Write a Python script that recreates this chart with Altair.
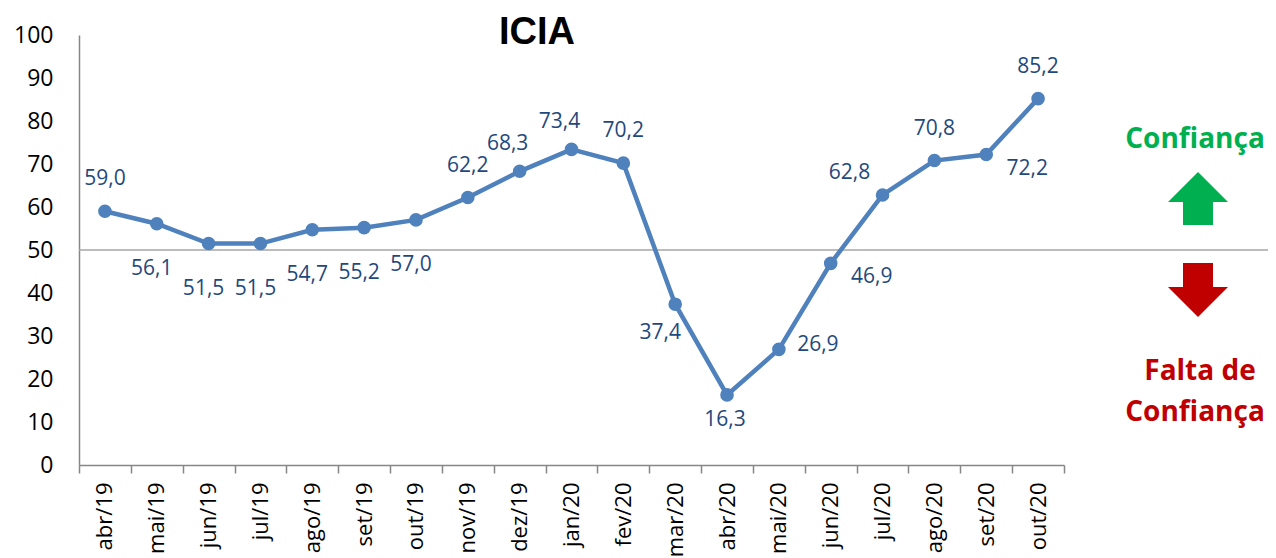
import altair as alt
import pandas as pd

# ---- data ----
months = ["abr/19", "mai/19", "jun/19", "jul/19", "ago/19", "set/19", "out/19",
          "nov/19", "dez/19", "jan/20", "fev/20", "mar/20", "abr/20", "mai/20",
          "jun/20", "jul/20", "ago/20", "set/20", "out/20"]
values = [59.0, 56.1, 51.5, 51.5, 54.7, 55.2, 57.0, 62.2, 68.3, 73.4, 70.2,
          37.4, 16.3, 26.9, 46.9, 62.8, 70.8, 72.2, 85.2]
placements = ["top", "bottom", "bottom", "bottom", "bottom", "bottom", "bottom",
              "top", "top-left", "top-left", "top", "bottom-left", "bottom-near",
              "right", "bottom-right", "upper-left", "top", "bottom-right", "top"]
y_ticks = list(range(0, 101, 10))
threshold = [50]

title_text = "ICIA"
up_text = "Confiança"
down_text = ["Falta de", "Confiança"]

# ---- style ----
LINE_COLOR = "#4F81BD"
LABEL_COLOR = "#1F497D"
GREEN = "#00B050"
RED = "#C00000"
FONT = "Open Sans"
W, H = 985, 430

OFFSETS = {
    "top": (0, -32),
    "top-left": (-12, -27),
    "bottom": (-5, 45),
    "bottom-near": (-2, 25),
    "bottom-left": (-15, 29),
    "upper-left": (-33, -22),
    "right": (39, -4),
    "bottom-right": (41, 14),
}

df = pd.DataFrame({
    "month": months,
    "value": values,
    "label": [f"{v:.1f}".replace(".", ",") for v in values],
    "place": placements,
})

x_enc = alt.X("month:N", sort=months, title=None,
              scale=alt.Scale(type="band", paddingInner=0, paddingOuter=0),
              axis=alt.Axis(labelAngle=270, labelAlign="right", labelBaseline="middle",
                            labelFont=FONT, labelFontSize=22, labelColor="#000000",
                            labelPadding=9, tickBand="extent", tickSize=8,
                            tickColor="#868686", tickWidth=1.5,
                            domainColor="#868686", domainWidth=1.5))
y_enc = alt.Y("value:Q", title=None,
              scale=alt.Scale(domain=[0, 100], nice=False),
              axis=alt.Axis(values=y_ticks, labelFont=FONT, labelFontSize=23,
                            labelColor="#000000", ticks=False, labelPadding=26,
                            domainColor="#868686", domainWidth=1.5, grid=False))

base = alt.Chart(df)

rule = alt.Chart(pd.DataFrame({"t": threshold})).mark_rule(
    color="#A6A6A6", strokeWidth=1.5
).encode(y=alt.Y("t:Q"), x=alt.value(0), x2=alt.value(1191))

line = base.mark_line(color=LINE_COLOR, strokeWidth=4.5).encode(x=x_enc, y=y_enc)
pts = base.mark_point(filled=True, opacity=1, size=185, color=LINE_COLOR).encode(
    x=alt.X("month:N", sort=months), y="value:Q")

label_layers = []
for place, (dx, dy) in OFFSETS.items():
    label_layers.append(
        base.transform_filter(alt.datum.place == place).mark_text(
            font=FONT, fontSize=21, color=LABEL_COLOR, dx=dx, dy=dy,
            align="center", baseline="middle"
        ).encode(x=alt.X("month:N", sort=months), y="value:Q", text="label:N")
    )

one = alt.Chart(pd.DataFrame({"a": [0]}))
title = one.mark_text(font="Liberation Sans", fontSize=38, fontWeight="bold",
                      color="#000000", align="center", baseline="alphabetic").encode(
    x=alt.value(458), y=alt.value(9), text=alt.value(title_text))

up_arrow = one.mark_point(
    shape="M0,-0.883 L1,0.117 L0.5,0.117 L0.5,0.883 L-0.5,0.883 L-0.5,0.117 L-1,0.117 Z",
    filled=True, opacity=1, size=3600, color=GREEN, strokeWidth=0
).encode(x=alt.value(1119), y=alt.value(163.5))
down_arrow = one.mark_point(
    shape="M-0.5,-0.9 L0.5,-0.9 L0.5,-0.1 L1,-0.1 L0,0.9 L-1,-0.1 L-0.5,-0.1 Z",
    filled=True, opacity=1, size=3600, color=RED, strokeWidth=0
).encode(x=alt.value(1119), y=alt.value(255))

up_label = one.mark_text(font=FONT, fontSize=28, fontWeight="bold", color=GREEN,
                         align="center", baseline="middle").encode(
    x=alt.value(1116), y=alt.value(105), text=alt.value(up_text))
down_label1 = one.mark_text(font=FONT, fontSize=28, fontWeight="bold", color=RED,
                            align="center", baseline="middle").encode(
    x=alt.value(1121), y=alt.value(337), text=alt.value(down_text[0]))
down_label2 = one.mark_text(font=FONT, fontSize=28, fontWeight="bold", color=RED,
                            align="center", baseline="middle").encode(
    x=alt.value(1116), y=alt.value(378), text=alt.value(down_text[1]))

chart = alt.layer(
    rule, line, pts, *label_layers, title, up_arrow, down_arrow,
    up_label, down_label1, down_label2
).properties(
    width=W, height=H,
    background="white",
    autosize=alt.AutoSizeParams(type="none"),
    padding={"left": 71, "top": 27, "right": 204, "bottom": 93},
).configure_view(strokeWidth=0)

chart.save("out.html", embed_options={"renderer": "svg", "actions": False})
